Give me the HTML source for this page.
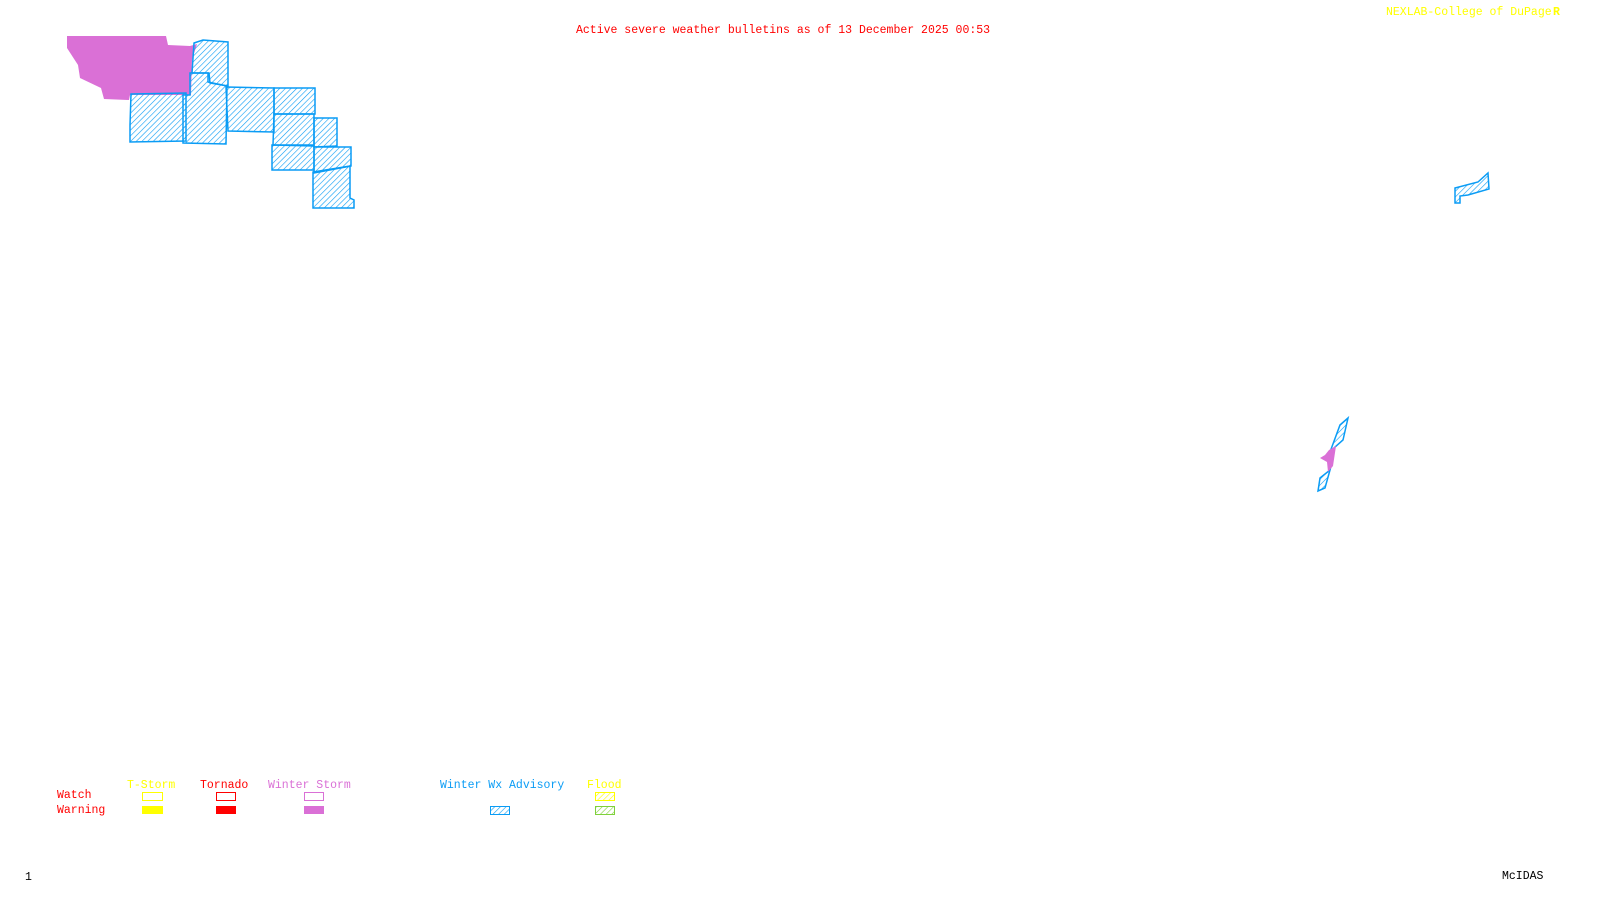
<!DOCTYPE html>
<html><head><meta charset="utf-8"><style>
html,body{margin:0;padding:0;background:#fff;width:1600px;height:900px;overflow:hidden}
svg{display:block}
text{font-family:"Liberation Mono",monospace;font-size:11.5px}
</style></head><body>
<svg width="1600" height="900" viewBox="0 0 1600 900">
<defs>
<pattern id="h" width="4" height="4" patternUnits="userSpaceOnUse" patternTransform="rotate(45)">
<line x1="0" y1="0" x2="0" y2="4" stroke="#0a9cf5" stroke-width="1.2"/></pattern>
<pattern id="hy" width="4" height="4" patternUnits="userSpaceOnUse" patternTransform="rotate(45)">
<line x1="0" y1="0" x2="0" y2="4" stroke="#ffff00" stroke-width="1.2"/></pattern>
<pattern id="hg" width="4" height="4" patternUnits="userSpaceOnUse" patternTransform="rotate(45)">
<line x1="0" y1="0" x2="0" y2="4" stroke="#7fd13b" stroke-width="1.2"/></pattern>
</defs>
<text x="576" y="33" fill="#ff0000">Active severe weather bulletins as of 13 December 2025 00:53</text>
<text x="1386" y="15" fill="#ffff00">NEXLAB-College of DuPage</text>
<text x="1553" y="15" fill="#ffff00" font-weight="bold">R</text>
<polygon points="67,36 166,36 168,45 190,46 197,44 192,60 191,95 186,95 130,95 129,100 104,99 101,88 80,78 78,65 67,48" fill="#da70d6"/>
<g fill="url(#h)" stroke="#0a9cf5" stroke-width="1.5">
<polygon points="131,94 186,93 186,141 130,142 130,125"/>
<polygon points="190,73 208,73 208,82 227,86 226,144 183,143 183,95 190,95"/>
<polygon points="194,43 203,40 228,42 228,86 210,83 209,73 192,73"/>
<polygon points="226,87 274,88 274,132 228,131"/>
<polygon points="274,88 315,88 315,114 274,114"/>
<polygon points="274,114 314,114 314,145 273,145"/>
<polygon points="272,145 314,146 314,170 272,170"/>
<polygon points="314,118 337,118 337,146 314,147"/>
<polygon points="314,147 351,147 351,166 314,173"/>
<polygon points="313,172 350,166 350,198 354,200 354,208 313,208"/>
<polygon points="1455,188 1478,182 1488,173 1489,189 1468,195 1460,196 1460,203 1455,203"/>
<polygon points="1340,425 1348,418 1343,440 1335,447 1330,452"/>
<polygon points="1320,478 1330,470 1325,488 1318,491"/>
</g>
<polygon points="1329,450 1336,446 1333,466 1328,472 1327,462 1320,458 1325,455" fill="#da70d6"/>
<text x="127" y="788" fill="#ffff00">T-Storm</text>
<text x="200" y="788" fill="#ff0000">Tornado</text>
<text x="268" y="788" fill="#da70d6">Winter Storm</text>
<text x="440" y="788" fill="#0a9cf5">Winter Wx Advisory</text>
<text x="587" y="788" fill="#ffff00">Flood</text>
<text x="57" y="798" fill="#ff0000">Watch</text>
<text x="57" y="813" fill="#ff0000">Warning</text>
<rect x="142.5" y="792.5" width="20" height="8" fill="none" stroke="#ffff00"/>
<rect x="216.5" y="792.5" width="19" height="8" fill="none" stroke="#ff0000"/>
<rect x="304.5" y="792.5" width="19" height="8" fill="none" stroke="#da70d6"/>
<rect x="595.5" y="792.5" width="19" height="8" fill="url(#hy)" stroke="#ffff00"/>
<rect x="142" y="806" width="21" height="8" fill="#ffff00"/>
<rect x="216" y="806" width="20" height="8" fill="#ff0000"/>
<rect x="304" y="806" width="20" height="8" fill="#da70d6"/>
<rect x="490.5" y="806.5" width="19" height="8" fill="url(#h)" stroke="#0a9cf5"/>
<rect x="595.5" y="806.5" width="19" height="8" fill="url(#hg)" stroke="#7fd13b"/>
<text x="25" y="880" fill="#000" font-size="10">1</text>
<text x="1502" y="879" fill="#000">McIDAS</text>
</svg>
</body></html>
